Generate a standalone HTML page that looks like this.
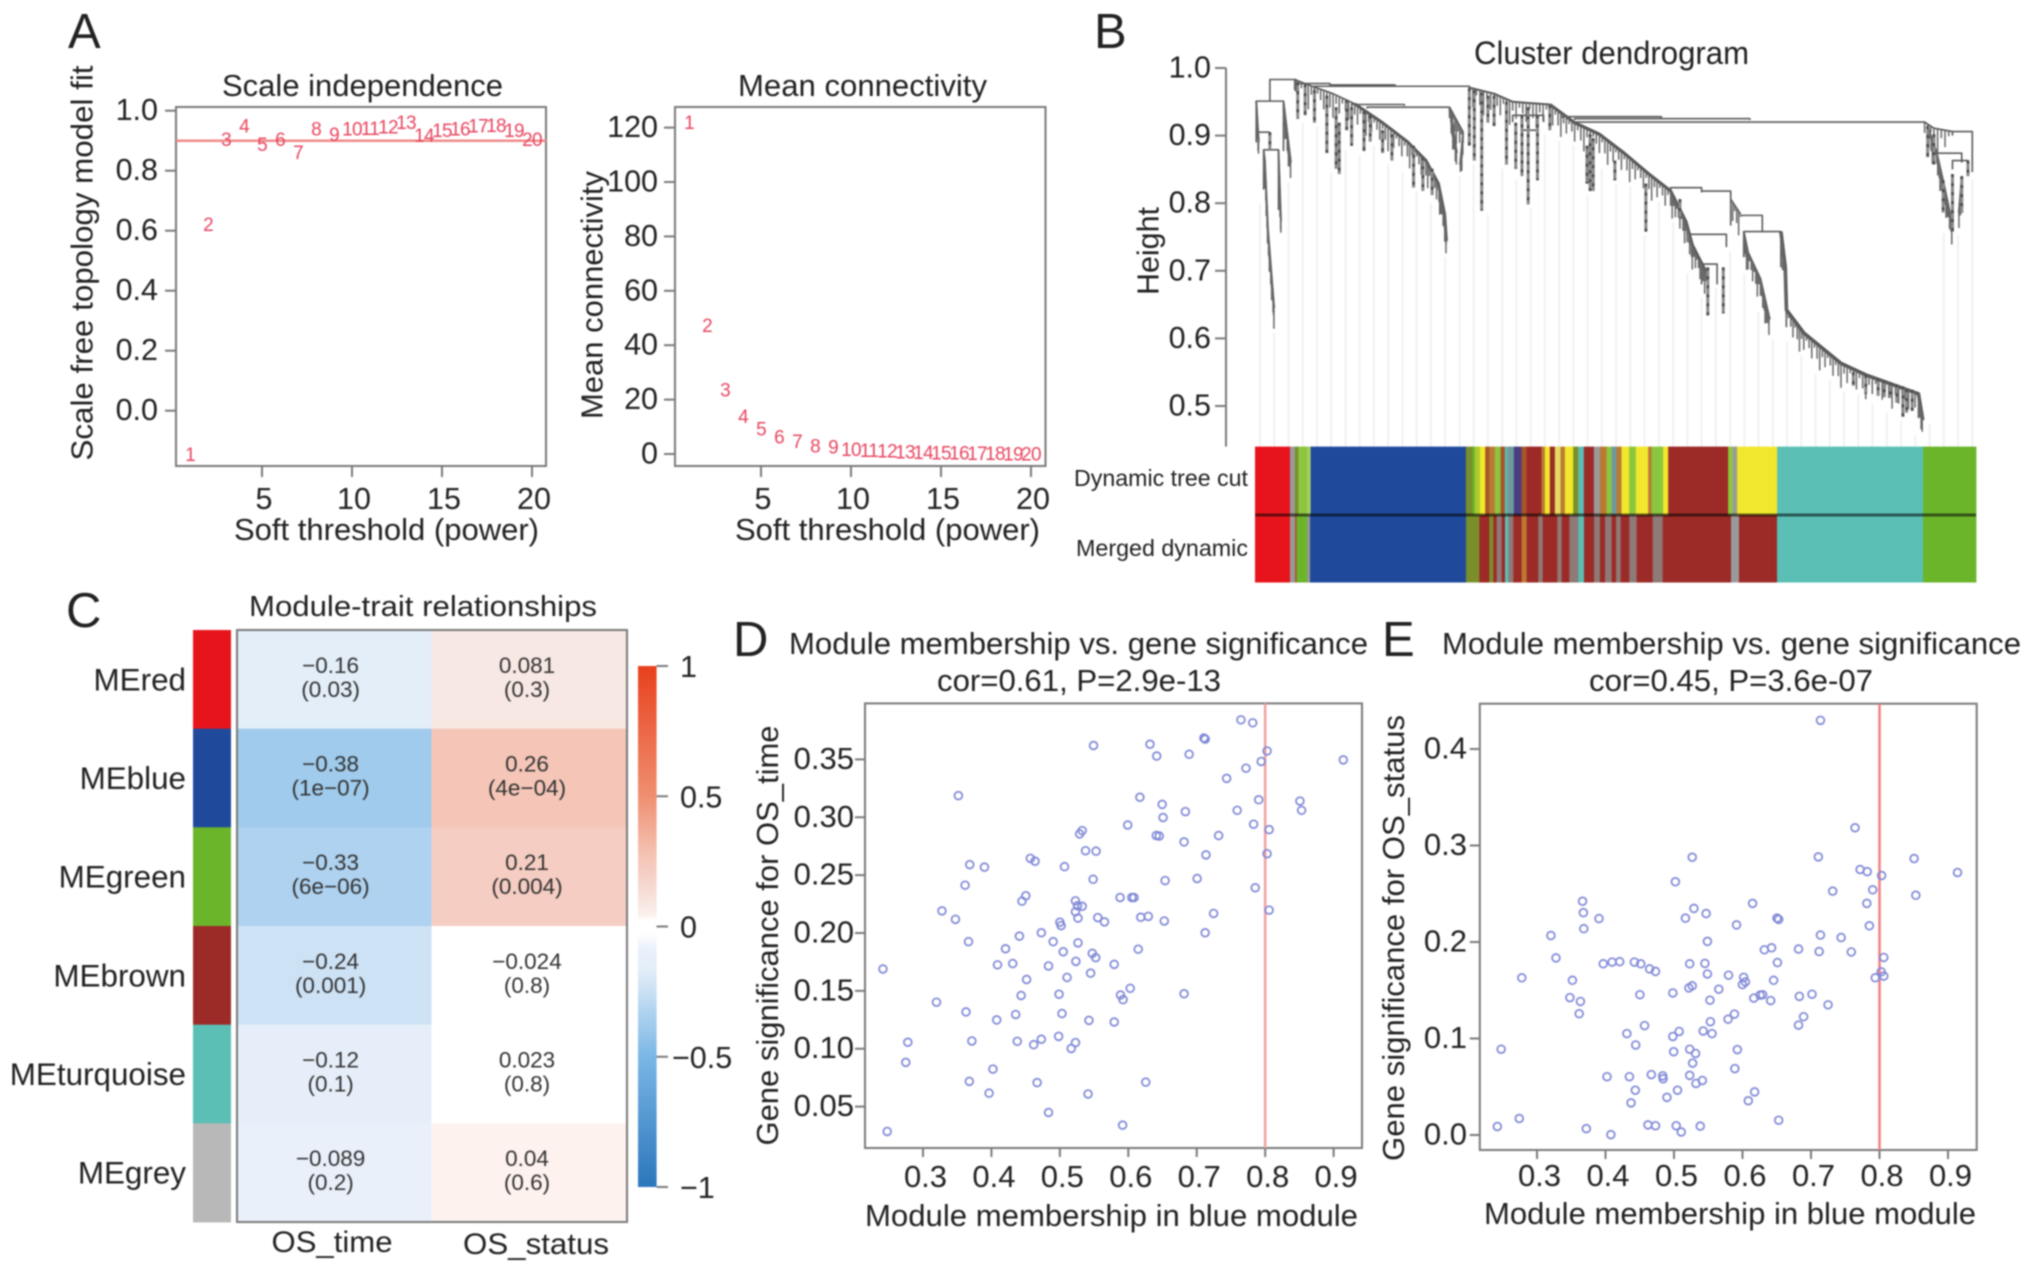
<!DOCTYPE html>
<html lang="en">
<head>
<meta charset="utf-8">
<title>WGCNA module analysis figure</title>
<style>
html,body{margin:0;padding:0;background:#fff;width:2032px;height:1270px;overflow:hidden}
svg{display:block;filter:blur(0.7px)}
text{font-family:"Liberation Sans",Arial,sans-serif;fill:#222}
</style>
</head>
<body>
<svg id="fig" xmlns="http://www.w3.org/2000/svg" width="2032" height="1270" viewBox="0 0 2032 1270">
<rect x="0" y="0" width="2032" height="1270" fill="#fff"/>
<defs>
<linearGradient id="cbarGrad" x1="0" y1="0" x2="0" y2="1"></linearGradient>
</defs>

<!-- Panel letters -->
<text x="68" y="48" font-size="49" fill="#111">A</text>
<text x="1094" y="48" font-size="49" fill="#111">B</text>
<text x="66" y="627" font-size="49" fill="#111">C</text>
<text x="733" y="656" font-size="49" fill="#111">D</text>
<text x="1382" y="656" font-size="49" fill="#111">E</text>

<!-- Panel A titles and axis titles -->
<text x="222" y="96" font-size="31" textLength="281" lengthAdjust="spacingAndGlyphs">Scale independence</text>
<text x="234" y="540" font-size="31" textLength="305" lengthAdjust="spacingAndGlyphs">Soft threshold (power)</text>
<text x="92.5" y="263" font-size="31" text-anchor="middle" textLength="395" lengthAdjust="spacingAndGlyphs" transform="rotate(-90 92.5 263)">Scale free topology model fit</text>
<text x="738" y="96" font-size="31" textLength="249" lengthAdjust="spacingAndGlyphs">Mean connectivity</text>
<text x="735" y="540" font-size="31" textLength="305" lengthAdjust="spacingAndGlyphs">Soft threshold (power)</text>
<text x="602.5" y="295" font-size="31" text-anchor="middle" textLength="248" lengthAdjust="spacingAndGlyphs" transform="rotate(-90 602.5 295)">Mean connectivity</text>

<!-- Panel B text -->
<text x="1474" y="64" font-size="32" textLength="275" lengthAdjust="spacingAndGlyphs">Cluster dendrogram</text>
<text x="1158.5" y="251" font-size="31" text-anchor="middle" textLength="88" lengthAdjust="spacingAndGlyphs" transform="rotate(-90 1158.5 251)">Height</text>
<text x="1074" y="486" font-size="23" textLength="174" lengthAdjust="spacingAndGlyphs">Dynamic tree cut</text>
<text x="1076" y="556" font-size="23" textLength="172" lengthAdjust="spacingAndGlyphs">Merged dynamic</text>

<!-- Panel C text -->
<text x="249" y="616" font-size="29" textLength="348" lengthAdjust="spacingAndGlyphs">Module-trait relationships</text>
<text x="332" y="1252" font-size="30" text-anchor="middle" textLength="121" lengthAdjust="spacingAndGlyphs">OS_time</text>
<text x="536" y="1254" font-size="30" text-anchor="middle" textLength="146" lengthAdjust="spacingAndGlyphs">OS_status</text>

<!-- Panel D text -->
<text x="789" y="654" font-size="31" textLength="579" lengthAdjust="spacingAndGlyphs">Module membership vs. gene significance</text>
<text x="937" y="691" font-size="31" textLength="284" lengthAdjust="spacingAndGlyphs">cor=0.61, P=2.9e-13</text>
<text x="865" y="1226" font-size="31" textLength="493" lengthAdjust="spacingAndGlyphs">Module membership in blue module</text>
<text x="778" y="935.5" font-size="31" text-anchor="middle" textLength="420" lengthAdjust="spacingAndGlyphs" transform="rotate(-90 778 935.5)">Gene significance for OS_time</text>

<!-- Panel E text -->
<text x="1442" y="654" font-size="31" textLength="579" lengthAdjust="spacingAndGlyphs">Module membership vs. gene significance</text>
<text x="1589" y="691" font-size="31" textLength="284" lengthAdjust="spacingAndGlyphs">cor=0.45, P=3.6e-07</text>
<text x="1484" y="1224" font-size="31" textLength="492" lengthAdjust="spacingAndGlyphs">Module membership in blue module</text>
<text x="1404" y="938" font-size="31" text-anchor="middle" textLength="446" lengthAdjust="spacingAndGlyphs" transform="rotate(-90 1404 938)">Gene significance for OS_status</text>

<g id="marks"></g>
</svg>

<script>
/* ---------- Panel A data ---------- */
const softPowers = [1,2,3,4,5,6,7,8,9,10,11,12,13,14,15,16,17,18,19,20];
const scaleFit = [-0.144,0.623,0.906,0.95,0.889,0.906,0.862,0.94,0.922,0.94,0.943,0.947,0.962,0.919,0.936,0.94,0.95,0.953,0.936,0.906];
const meanConnectivity = [122,47.4,23.8,14,9.3,6.5,4.7,3.2,2.8,1.9,1.5,1.2,1.0,0.8,0.6,0.5,0.4,0.3,0.25,0.2];
const powerTicks = [5,10,15,20];
const scaleFitTicks = ['0.0','0.2','0.4','0.6','0.8','1.0'];
const connectivityTicks = [0,20,40,60,80,100,120];
const scaleFitCutoff = 0.9;

/* ---------- Panel B data ---------- */
const heightTicks = ['0.5','0.6','0.7','0.8','0.9','1.0'];
/* tree brackets: left rank, right rank, merge height, left-leg end height, right-leg end height */
const treeBrackets = [
[24,66,.983,.951,.965],[2,46,.951,.905,.877],[14,38,.879,.82,.79],[2,24,.905,.89,.905],
[96,346,.973,.965,.971],[66,121,.977,.975,.975],[121,226,.975,.973,.973],
[181,314,.942,.94,.936],[156,241,.946,.944,.944],[416,466,.93,.92,.92],[431,456,.908,.9,.9],
[496,656,.928,.926,.926],[516,799,.925,.923,.923],[516,1081,.92,.918,.918],
[671,721,.823,.818,.818],[721,768,.818,.816,.767],[784,819,.782,.78,.758],[789,849,.758,.72,.705],
[701,761,.754,.75,.735],[721,746,.71,.68,.68],[1126,1158,.906,.9,.846],[1101,1141,.874,.86,.86],[1126,1151,.863,.85,.84]
];
/* spines: sequences of rank, height pairs along the tree */
const treeSpines = [
[[64,.983],[86,.975],[126,.962],[161,.947]],
[[161,.947],[206,.919],[246,.891],[276,.863],[296,.829],[306,.784],[309,.744]],
[[346,.971],[386,.962],[416,.95],[476,.946]],
[[476,.946],[516,.919],[556,.902],[596,.874],[636,.843],[671,.818],[696,.772],[706,.738],[731,.693]],
[[789,.758],[796,.727],[816,.688],[831,.628]],
[[849,.758],[856,.705],[858,.642],[886,.608],[946,.563],[986,.546],[1071,.518],[1078,.479]],
[[14,.879],[16,.863],[21,.761],[31,.645]],
[[38,.879],[42,.773]],
[[46,.951],[58,.86]],
[[2,.951],[6,.89]],
[[768,.806],[784,.784]],
[[1081,.92],[1096,.911],[1126,.906]],
[[314,.942],[336,.905],[331,.857]],
[[316,.936],[326,.874]],
[[1086,.914],[1101,.874],[1111,.834],[1126,.77]],
[[1141,.84],[1136,.786]]
];
const spineWeights = [1.6,3,2,3.2,2,3.6,1.8,1.8,1.8,2,1.6,1.6,1.8,1.8,1.6,1.6];
/* hanging clusters: rank, top height, bottom height */
const treeHangers = [
[69,.979,.925],[81,.976,.93],[96,.967,.919],[116,.959,.874],[131,.942,.851],[136,.919,.843],
[148,.953,.908],[156,.942,.885],[176,.936,.877],[186,.93,.891],[206,.908,.874],[221,.902,.863],
[256,.885,.823],[271,.868,.818],[286,.851,.812],[346,.97,.885],[354,.967,.863],[366,.964,.789],
[376,.959,.919],[386,.959,.914],[406,.95,.857],[441,.942,.798],[456,.93,.834],[431,.93,.84],[421,.919,.851],
[476,.945,.908],[541,.902,.818],[536,.885,.829],[546,.896,.818],[581,.863,.834],[631,.829,.758],[686,.806,.778],
[966,.55,.53],[986,.546,.518],[1006,.541,.515],[1016,.538,.513],[1026,.535,.512],[1036,.532,.505],[1046,.529,.484],[1052,.525,.49],[1061,.524,.493],
[731,.705,.634],[756,.705,.637],[1086,.914,.868],[1096,.902,.857],[1151,.863,.84],
[1126,.843,.758],[1111,.834,.786],[1141,.84,.786],[24,.905,.879]
];
const leafDropPattern = [.016,.028,.009,.022,.036,.013,.025,.008];
const leafCount = 1164;
const guideSpacing = 23;

const moduleColors = {red:'#e8141c',grey:'#9a9a9a',greybrown:'#8e7a76',olive:'#7a8f2a',lightgreen:'#8cc63f',palegreen:'#a8d060',blue:'#1f4a9c',
green:'#6bb52b',lime:'#a9cc2e',yellow:'#f1e72c',rust:'#a8552a',orange:'#bb7a34',teal:'#5bbfb5',greyteal:'#6f9a9c',
navy:'#4a3d80',brown:'#9c2a27',paleyellow:'#e4dc60',turquoise:'#5bbfb5'};
const dynamicModules = ['red','grey','olive','lightgreen','palegreen','blue','olive','green','lime','yellow','rust','orange','lightgreen','rust','teal','greyteal','navy','rust','brown','orange','yellow','brown','paleyellow','orange','yellow','olive','teal','brown','grey','orange','lightgreen','greyteal','orange','yellow','lightgreen','yellow','orange','lightgreen','yellow','brown','lightgreen','grey','yellow','turquoise','green'];
const dynamicCounts = [105,15,10,27,10,466,20,7,15,16,12,17,17,13,7,20,23,15,45,10,15,15,17,13,25,15,17,30,18,20,15,15,15,23,20,37,10,35,15,180,14,13,120,438,159];
const mergedModules = ['red','grey','rust','green','grey','blue','olive','brown','olive','brown','greybrown','brown','teal','greybrown','brown','orange','brown','greybrown','brown','greybrown','brown','greybrown','teal','brown','greybrown','brown','greybrown','brown','greybrown','brown','greybrown','brown','greybrown','brown','grey','brown','turquoise','green'];
const mergedCounts = [105,15,5,32,8,468,40,30,12,10,15,10,10,15,25,15,35,13,44,13,23,27,17,30,18,15,20,13,14,26,22,48,30,205,24,114,438,159];

/* ---------- Panel C data ---------- */
const traitRows = ['MEred','MEblue','MEgreen','MEbrown','MEturquoise','MEgrey'];
const traitRowColors = ['#e8141c','#1f4a9c','#6bb52b','#9c2a27','#5bbfb5','#b8b8b8'];
const osTimeCor = [-0.16,-0.38,-0.33,-0.24,-0.12,-0.089];
const osStatusCor = [0.081,0.26,0.21,-0.024,0.023,0.04];
const osTimeP = ['(0.03)','(1e−07)','(6e−06)','(0.001)','(0.1)','(0.2)'];
const osStatusP = ['(0.3)','(4e−04)','(0.004)','(0.8)','(0.8)','(0.6)'];
const colorbarTicks = [1,0.5,0,-0.5,-1];

/* ---------- Panel D data ---------- */
const mmTicks = ['0.3','0.4','0.5','0.6','0.7','0.8','0.9'];
const gsTimeTicks = ['0.05','0.10','0.15','0.20','0.25','0.30','0.35'];
const gsTimeX = [.2415,.2477,.2778,.2748,.3197,.3277,.3474,.3517,.3628,.3615,.3683,.3665,.3714,.3677,.3898,.3966,.4022,.4077,.4089,.4206,.4311,.4354,.4378,.4409,.4434,.4446,.4502,.4514,.4569,.4637,.4618,.4668,.4729,.4729,.4834,.4834,.4902,.4982,.4988,.5,.5018,.5031,.5049,.5068,.5105,.5166,.5228,.5228,.5228,.5234,.5258,.5265,.5265,.5289,.5326,.5326,.5375,.5412,.5425,.5449,.5474,.5486,.5492,.5529,.5523,.5554,.5652,.5794,.5794,.588,.5886,.5917,.5923,.5991,.6028,.6052,.6083,.6145,.6169,.6182,.6255,.6292,.6317,.6409,.6452,.6415,.6495,.6508,.6526,.6538,.6815,.6815,.6834,.6889,.7006,.7105,.7123,.7123,.7135,.7246,.732,.7437,.7591,.7646,.772,.7818,.7831,.7855,.7905,.7942,.8028,.8028,.8058,.8058,.8508,.8532,.9142];
const gsTimeY = [.1689,.0285,.1056,.0882,.1402,.2191,.2118,.3187,.1318,.2413,.2591,.1925,.1067,.0718,.2569,.0616,.0824,.1249,.1725,.1864,.1736,.1296,.1064,.1973,.146,.2275,.2322,.1598,.2645,.262,.1035,.0707,.2002,.1082,.1715,.0449,.1925,.1107,.1471,.2093,.2064,.1304,.1838,.2573,.1616,.1002,.1053,.2278,.2184,.1755,.2235,.2129,.1915,.2856,.2885,.2231,.2711,.0609,.1245,.1653,.1824,.2464,.362,.2707,.1787,.2133,.2096,.1729,.1231,.2307,.1464,.034,.1424,.2933,.1522,.2307,.2307,.186,.3173,.2136,.0711,.2144,.3631,.2842,.2838,.3529,.3111,.2998,.2104,.2453,.2787,.1475,.3049,.3544,.2471,.3685,.3675,.2002,.2675,.2169,.2842,.3336,.306,.3842,.3424,.3816,.294,.2391,.3151,.3482,.3573,.2685,.2893,.2198,.314,.306,.3496];

/* ---------- Panel E data ---------- */
const gsStatusTicks = ['0.0','0.1','0.2','0.3','0.4'];
const gsStatusX = [.2421,.2477,.2741,.2778,.3203,.3277,.348,.3517,.3616,.3634,.3665,.3677,.3683,.372,.3905,.3967,.4022,.4078,.4096,.4207,.4312,.4349,.4373,.4422,.4441,.4435,.4502,.4515,.457,.462,.4644,.4669,.473,.473,.4835,.4841,.4897,.4983,.4995,.4983,.502,.5032,.5051,.5075,.5106,.5167,.5217,.5229,.5229,.5229,.5266,.5266,.5272,.5291,.5315,.5321,.5383,.5414,.5426,.5451,.5469,.5488,.5488,.5525,.5531,.5555,.5654,.5789,.5796,.5882,.5888,.5913,.5925,.5999,.6017,.6042,.6085,.6147,.6165,.6177,.6257,.6294,.6319,.6411,.6424,.6454,.6504,.6528,.651,.6528,.6818,.6818,.683,.6892,.7015,.7107,.7119,.7138,.7138,.7249,.7317,.744,.7588,.7643,.7717,.7821,.7815,.7852,.7901,.7938,.8025,.8031,.8062,.8062,.8505,.853,.9139];
const gsStatusY = [.0088,.0889,.0171,.1629,.2067,.1835,.1424,.1603,.1257,.1384,.2422,.2304,.2138,.0066,.2243,.1774,.0604,.0004,.1792,.1796,.1051,.0604,.0333,.1792,.0933,.0464,.1454,.1774,.1134,.0105,.1721,.0626,.1695,.0096,.0613,.0583,.039,.1472,.0863,.1021,.2624,.0096,.0464,.1073,.0031,.2247,.1524,.1774,.0618,.0889,.2878,.1546,.0745,.2348,.0845,.0534,.0092,.0565,.1078,.1778,.2295,.1669,.2006,.1397,.1174,.1051,.1511,.12,.1656,.1253,.0688,.2177,.0885,.1559,.1634,.1586,.0355,.24,.1419,.0447,.145,.1454,.1919,.1393,.194,.1603,.2247,.2234,.1787,.0153,.1139,.1927,.1437,.1226,.1459,.2882,.1901,.4297,.2072,.1349,.2527,.2046,.1897,.3184,.2751,.2729,.24,.2168,.2541,.1629,.1691,.2689,.1647,.184,.2865,.2484,.272];
const moduleMembershipCutoff = 0.8;

/* ---------- Helpers ---------- */
const NS = 'http://www.w3.org/2000/svg';
const root = document.getElementById('marks');
function linear(d0, d1, p0, p1) { return v => p0 + (v - d0) * (p1 - p0) / (d1 - d0); }
function setAll(el, attrs) { for (const k in attrs) el.setAttribute(k, attrs[k]); }
function drawLine(name, x1, y1, x2, y2, stroke, w) {
  const el = document.createElementNS(NS, 'line');
  setAll(el, {x1, y1, x2, y2, stroke, 'stroke-width': w});
  
  
  root.appendChild(el);
  return el;
}
function drawRect(name, x, y, w, h, fill, stroke, sw) {
  const el = document.createElementNS(NS, 'rect');
  setAll(el, {x, y, width: w, height: h, fill, stroke: stroke || 'none', 'stroke-width': sw || 0});
  
  
  root.appendChild(el);
  return el;
}
function drawText(name, x, y, str, size, anchor, fill) {
  const el = document.createElementNS(NS, 'text');
  setAll(el, {x, y, 'font-size': size, 'text-anchor': anchor, fill: fill || '#222', style: 'fill:' + (fill || '#222')});
  el.textContent = str;
  
  
  root.appendChild(el);
  return el;
}
function drawPath(name, d, stroke, w, dash) {
  const el = document.createElementNS(NS, 'path');
  setAll(el, {d, stroke, 'stroke-width': w, fill: 'none', 'stroke-linejoin': 'round'});
  if (dash) el.setAttribute('stroke-dasharray', dash);
  
  
  root.appendChild(el);
  return el;
}
function drawCircle(name, cx, cy, r, stroke, w) {
  const el = document.createElementNS(NS, 'circle');
  setAll(el, {cx, cy, r, stroke, 'stroke-width': w, fill: 'none'});
  
  
  root.appendChild(el);
  return el;
}
const AXIS = '#7a7a7a';
const POINT_RED = '#e8455f';

/* ---------- Panel A: scale independence ---------- */
(function () {
  const x = linear(5, 20, 262, 532);
  const y = linear(0, 1, 410.7, 110.7);
  drawRect('scale-plot-frame', 176, 107, 370, 359, 'none', AXIS, 2);
  powerTicks.forEach(t => {
    drawLine('scale-x-tick', x(t), 466, x(t), 477, AXIS, 2);
    drawText('scale-x-tick-label', x(t) + 2, 509, String(t), 30.5, 'middle');
  });
  scaleFitTicks.forEach(t => {
    drawLine('scale-y-tick', 176, y(+t), 165, y(+t), AXIS, 2);
    drawText('scale-y-tick-label', 158, y(+t) + 9.5, t, 30.5, 'end');
  });
  drawLine('scale-cutoff-line', 176, y(scaleFitCutoff), 546, y(scaleFitCutoff), '#f08a8a', 2.5);
  softPowers.forEach((p, i) => {
    const el = drawText('scale-point-label', x(p), y(scaleFit[i]) + 7, String(p), 19, 'middle', POINT_RED);
    el.style.letterSpacing = '-0.7px';
  });
})();

/* ---------- Panel A: mean connectivity ---------- */
(function () {
  const x = linear(5, 20, 761, 1031);
  const y = linear(0, 120, 454, 127.6);
  drawRect('connectivity-plot-frame', 675, 107, 370.5, 359, 'none', AXIS, 2);
  powerTicks.forEach(t => {
    drawLine('connectivity-x-tick', x(t), 466, x(t), 477, AXIS, 2);
    drawText('connectivity-x-tick-label', x(t) + 2, 509, String(t), 30.5, 'middle');
  });
  connectivityTicks.forEach(t => {
    drawLine('connectivity-y-tick', 675, y(t), 664, y(t), AXIS, 2);
    drawText('connectivity-y-tick-label', 658, y(t) + 9.5, String(t), 30.5, 'end');
  });
  softPowers.forEach((p, i) => {
    const el = drawText('connectivity-point-label', x(p), y(meanConnectivity[i]) + 7, String(p), 19, 'middle', POINT_RED);
    el.style.letterSpacing = '-0.7px';
  });
})();

/* ---------- Panel B: dendrogram ---------- */
(function () {
  const x = linear(0, leafCount, 1255, 1976);
  const y = linear(1, 0.5, 68, 406);
  const BAR_TOP = 446.6;
  let thin = '', loose = '', drop = '';
  const depth = new Array(Math.ceil(leafCount / 4) + 2).fill(0);
  const note = (r, h) => {
    const k = Math.max(0, Math.round(r / 4));
    if (k < depth.length) depth[k] = Math.max(depth[k], y(h));
  };
  treeBrackets.forEach(b => {
    thin += `M${x(b[0])} ${y(b[3])}V${y(b[2])}H${x(b[1])}V${y(b[4])}`;
    note(b[0], b[3]); note(b[1], b[4]); note(b[0], b[2]); note(b[1], b[2]);
    for (let r = b[0]; r < b[1]; r += 8) note(r, b[2]);
  });
  treeSpines.forEach((s, si) => {
    const d = s.map((p, i) => (i ? 'L' : 'M') + x(p[0]) + ' ' + y(p[1])).join('');
    drawPath('dendrogram-branch', d, '#555', spineWeights[si]);
    let c = 0;
    for (let i = 1; i < s.length; i++) {
      const [r0, h0] = s[i - 1], [r1, h1] = s[i];
      const dist = Math.hypot(x(r1) - x(r0), y(h1) - y(h0));
      const n = Math.max(1, Math.round(dist / 3.5));
      for (let j = 0; j < n; j++) {
        const t = j / n, r = r0 + (r1 - r0) * t, h = h0 + (h1 - h0) * t;
        const len = leafDropPattern[c++ % leafDropPattern.length];
        drop += `M${x(r)} ${y(h)}V${y(h - len)}`;
        note(r, h - len);
      }
    }
    s.forEach(p => note(p[0], p[1]));
  });
  treeHangers.forEach(v => {
    loose += `M${x(v[0])} ${y(v[1])}V${y(v[2])}`;
    note(v[0], v[2]);
  });
  /* faint guide lines from the tree to the colour bars */
  for (let r = 8; r < leafCount; r += guideSpacing) {
    const k = Math.round(r / 4);
    let top = 0;
    for (let q = k - 2; q <= k + 2; q++) if (depth[q] > top) top = depth[q];
    drawLine('dendrogram-guide-line', x(r), (top || 120) + 4, x(r), BAR_TOP, '#f1f1f1', 2);
  }
  drawPath('dendrogram-merge-lines', thin, '#5a5a5a', 1.6);
  drawPath('dendrogram-leaf-drops', drop, '#666', 1.5);
  drawPath('dendrogram-hanging-clusters', loose, '#8a8a8a', 3);
  drawPath('dendrogram-hanging-beads', loose, '#4a4a4a', 2.6, '3 6');
  drawLine('dendrogram-y-axis', 1226, y(1), 1226, BAR_TOP, AXIS, 2);
  heightTicks.forEach(t => {
    drawLine('dendrogram-y-tick', 1226, y(+t), 1215, y(+t), AXIS, 2);
    drawText('dendrogram-y-tick-label', 1211, y(+t) + 9.5, t, 30.5, 'end');
  });
  function strip(mods, counts, top, bottom, name) {
    const total = counts.reduce((a, b) => a + b, 0);
    const sx = linear(0, total, 1255, 1976);
    let acc = 0;
    mods.forEach((m, i) => {
      drawRect(name, sx(acc), top, sx(acc + counts[i]) - sx(acc) + 0.4, bottom - top, moduleColors[m]);
      acc += counts[i];
    });
  }
  strip(dynamicModules, dynamicCounts, BAR_TOP, 515, 'dynamic-tree-cut-segment');
  strip(mergedModules, mergedCounts, 515, 582.5, 'merged-dynamic-segment');
  const divider = drawLine('color-row-divider', 1255, 515, 1976, 515, '#000', 3);
  divider.setAttribute('stroke-opacity', '0.55');
})();

/* ---------- Panel C: heatmap ---------- */
const corStops = [[-1,[42,118,187]],[-0.5,[122,182,230]],[-0.38,[160,203,236]],[-0.33,[174,210,239]],[-0.24,[205,226,245]],[-0.16,[227,238,248]],[-0.089,[233,240,250]],[-0.025,[255,255,255]],[0.025,[255,255,255]],[0.04,[253,242,238]],[0.081,[248,232,227]],[0.21,[245,205,194]],[0.26,[245,198,184]],[0.5,[239,143,112]],[1,[232,64,28]]];
function corColor(v) {
  for (let i = 1; i < corStops.length; i++) {
    if (v <= corStops[i][0]) {
      const [a, ca] = corStops[i - 1], [b, cb] = corStops[i];
      const t = (v - a) / (b - a);
      const c = ca.map((q, k) => Math.round(q + (cb[k] - q) * t));
      return `rgb(${c[0]},${c[1]},${c[2]})`;
    }
  }
  return 'rgb(232,64,28)';
}
(function () {
  const top = 630, rowH = (1222 - 630) / traitRows.length;
  const colX = [237, 431.6, 627];
  const colC = [330.6, 527];
  traitRows.forEach((row, i) => {
    const yT = top + i * rowH, yC = yT + rowH / 2;
    drawRect('module-color-swatch', 193, yT, 38, rowH + 0.4, traitRowColors[i]);
    drawText('module-row-label', 186, yC + 11, row, 31.4, 'end');
    [osTimeCor, osStatusCor].forEach((arr, c) => {
      drawRect('heatmap-cell', colX[c], yT, colX[c + 1] - colX[c], rowH + 0.4, corColor(arr[i]));
    });
    [[osTimeCor, osTimeP], [osStatusCor, osStatusP]].forEach((pair, c) => {
      const txt = String(pair[0][i]).replace('-', '−');
      drawText('heatmap-correlation-value', colC[c], yC - 6.5, txt, 22.5, 'middle', '#333');
      drawText('heatmap-p-value', colC[c], yC + 17.5, pair[1][i], 22.5, 'middle', '#333');
    });
  });
  drawRect('heatmap-frame', 237, 630, 390, 592, 'none', AXIS, 2);
  const cy = linear(1, -1, 666, 1187);
  const grad = document.getElementById('cbarGrad');
  [...corStops].reverse().forEach(s => {
    const st = document.createElementNS(NS, 'stop');
    st.setAttribute('offset', (1 - s[0]) / 2);
    st.setAttribute('stop-color', `rgb(${s[1].join(',')})`);
    grad.appendChild(st);
  });
  drawRect('colorbar', 638, 666, 18.6, 521, 'url(#cbarGrad)');
  colorbarTicks.forEach(t => {
    drawLine('colorbar-tick', 656.6, cy(t), 668, cy(t), AXIS, 2);
    const neg = t < 0;
    drawText('colorbar-tick-label', neg && t === -0.5 ? 672 : 680, cy(t) + 11, String(t).replace('-', '−'), 30.5, 'start');
  });
})();

/* ---------- Panels D and E: scatter plots ---------- */
function scatter(cfg) {
  const x = linear(0.3, 0.9, cfg.x03, cfg.x09);
  const y = linear(cfg.yd0, cfg.yd1, cfg.yp0, cfg.yp1);
  drawRect(cfg.key + '-plot-frame', cfg.l, cfg.t, cfg.r - cfg.l, cfg.b - cfg.t, 'none', AXIS, 2);
  mmTicks.forEach(t => {
    drawLine(cfg.key + '-x-tick', x(+t), cfg.b, x(+t), cfg.b + 9, AXIS, 2);
    drawText(cfg.key + '-x-tick-label', x(+t) + 2.5, cfg.tickBase, t, 31, 'middle');
  });
  cfg.yTicks.forEach(t => {
    drawLine(cfg.key + '-y-tick', cfg.l, y(+t), cfg.l - 10, y(+t), AXIS, 2);
    drawText(cfg.key + '-y-tick-label', cfg.labelRight, y(+t) + 9.5, t, 31, 'end');
  });
  drawLine(cfg.key + '-cutoff-line', x(moduleMembershipCutoff), cfg.t, x(moduleMembershipCutoff), cfg.b, cfg.lineColor, 2.5);
  cfg.xs.forEach((v, i) => {
    drawCircle(cfg.key + '-point', x(v), y(cfg.ys[i]), 3.9, '#7f88d6', 1.7);
  });
}
scatter({key:'scatter-d', l:865, r:1362, t:703.4, b:1148, x03:923, x09:1333.6, yd0:0.05, yd1:0.35, yp0:1106.6, yp1:759.4,
  yTicks:gsTimeTicks, xs:gsTimeX, ys:gsTimeY, tickBase:1187, labelRight:854, lineColor:'#f2a0a0'});
scatter({key:'scatter-e', l:1479.8, r:1976.7, t:703.7, b:1150, x03:1537, x09:1948, yd0:0, yd1:0.4, yp0:1135, yp1:749,
  yTicks:gsStatusTicks, xs:gsStatusX, ys:gsStatusY, tickBase:1186, labelRight:1467, lineColor:'#f08080'});
</script>
</body>
</html>
